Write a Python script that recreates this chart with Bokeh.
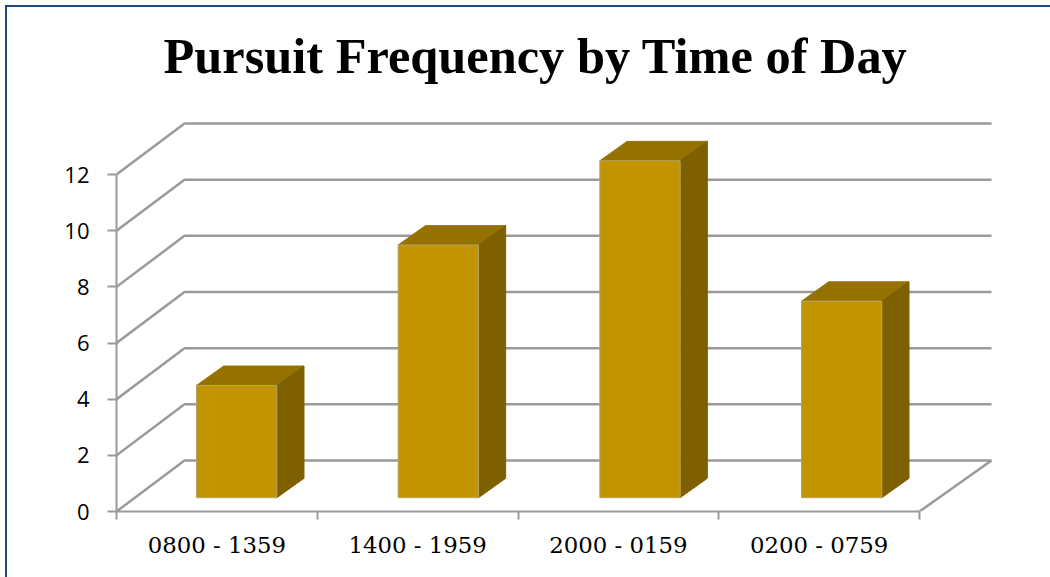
from bokeh.plotting import figure
from bokeh.models import FixedTicker, Range1d, Title
from bokeh.embed import file_html
from bokeh.resources import INLINE

categories = ["0800 - 1359", "1400 - 1959", "2000 - 0159", "0200 - 0759"]
values = [4, 9, 12, 7]
y_ticks = [0, 2, 4, 6, 8, 10, 12]
title = "Pursuit Frequency by Time of Day"

FRONT = "#c29400"
TOP = "#957200"
SIDE = "#7f6000"
EDGE = "#b5a36a"
GRID = "#9a9a9a"
INK = "#000000"
BORDER = "#1f497d"

# layout in pixels
W, H = 1050, 577
L, R = 116, W - 996
T, B = 104, H - 511
PX_X = 200.75     # px per category
PX_Y = 28.08      # px per value unit
DX = 68 / PX_X
DX_END = 72 / PX_X
DY = 51 / PX_Y
BAR_W = 0.40
BAR_START = 0.3985
BAR_STEP = 201.67 / PX_X
BASE_F = 0.27
BAR_DX = 0.40 * DX
BAR_DY = 0.38 * DY

p = figure(width=W, height=H, output_backend="svg", toolbar_location=None,
           min_border_left=L, min_border_right=R, min_border_top=T, min_border_bottom=B,
           x_range=Range1d(0, (W - L - R) / PX_X),
           y_range=Range1d(0, (H - T - B) / PX_Y))
p.background_fill_alpha = 0
p.border_fill_alpha = 0
p.outline_line_color = None
p.grid.visible = False

# chart-area border: only the left and top edges reach the picture
p.styles = {
    "background-color": "white",
    "background-image": f"linear-gradient({BORDER},{BORDER}), linear-gradient({BORDER},{BORDER})",
    "background-size": f"2px {H - 5}px, {W - 5}px 2px",
    "background-position": "5px 5px, 5px 5px",
    "background-repeat": "no-repeat",
}

ttl = Title(text=title, align="left", offset=163 - L, standoff=41,
            text_font="Liberation Serif", text_font_size="50.4px",
            text_font_style="bold", text_color=INK)
p.add_layout(ttl, "above")

ya = p.yaxis[0]
ya.ticker = FixedTicker(ticks=y_ticks)
ya.bounds = (0, max(y_ticks))
ya.axis_line_color = GRID
ya.axis_line_width = 2
ya.major_tick_line_color = GRID
ya.major_tick_line_width = 2
ya.major_tick_in = 0
ya.major_tick_out = 9
ya.minor_tick_line_color = None
ya.major_label_text_font = "Open Sans"
ya.major_label_text_font_size = "22px"
ya.major_label_text_color = INK
ya.major_label_standoff = 18

xa = p.xaxis[0]
mids = [i + 0.5 for i in range(len(categories))]
xa.ticker = FixedTicker(ticks=mids, minor_ticks=list(range(len(categories) + 1)))
xa.major_label_overrides = {m: c for m, c in zip(mids, categories)}
xa.bounds = (0, len(categories))
xa.axis_line_color = GRID
xa.axis_line_width = 2
xa.major_tick_line_color = None
xa.minor_tick_line_color = GRID
xa.minor_tick_line_width = 2
xa.minor_tick_in = 0
xa.minor_tick_out = 8
xa.major_label_text_font = "DejaVu Serif"
xa.major_label_text_font_size = "22.8px"
xa.major_label_text_color = INK
xa.major_label_standoff = 12

n = len(categories)
xs, ys = [], []
for t in y_ticks:
    xs.append([0, DX, n + DX_END])
    ys.append([t, t + DY, t + DY])
xs.append([n, n + DX_END])
ys.append([0, DY])
p.multi_line(xs, ys, line_color=GRID, line_width=2.5)

fx, fr, fb, ft = [], [], [], []
tx, ty, sx, sy = [], [], [], []
base = BASE_F * DY
for i, v in enumerate(values):
    l = BAR_START + i * BAR_STEP
    r = l + BAR_W
    top = base + v
    fx.append(l); fr.append(r); fb.append(base); ft.append(top)
    tx.append([l, l + BAR_DX, r + BAR_DX, r])
    ty.append([top, top + BAR_DY, top + BAR_DY, top])
    sx.append([r, r + BAR_DX, r + BAR_DX, r])
    sy.append([base, base + BAR_DY, top + BAR_DY, top])
p.patches(tx, ty, fill_color=TOP, line_color=TOP, line_width=1)
p.patches(sx, sy, fill_color=SIDE, line_color=SIDE, line_width=1)
p.quad(left=fx, right=fr, bottom=fb, top=ft, fill_color=FRONT, line_color=EDGE, line_width=1)

open("out.html", "w").write(file_html(p, INLINE))
